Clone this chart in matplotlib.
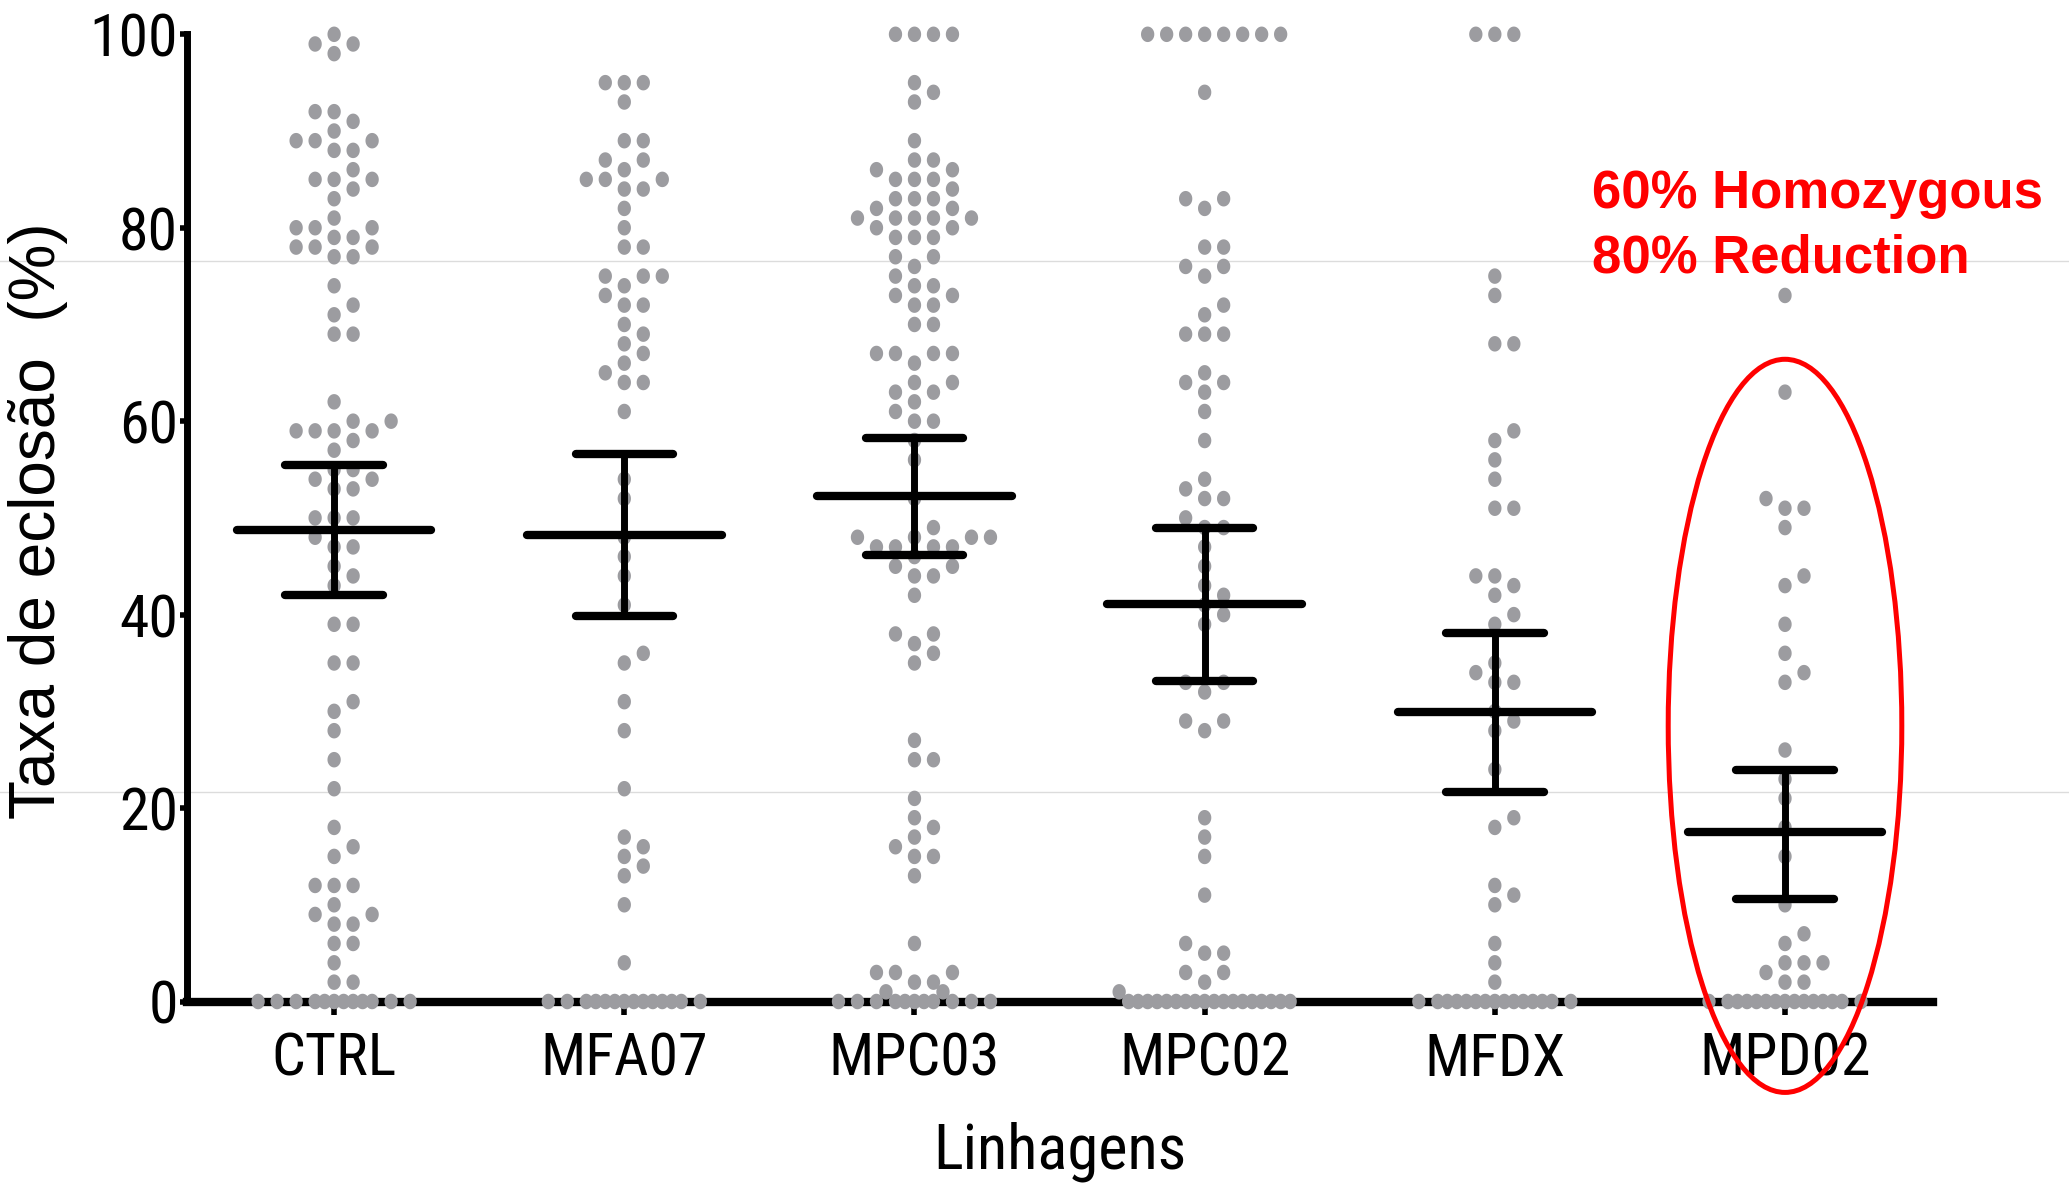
import numpy as np
import matplotlib
matplotlib.use("Agg")
import matplotlib.pyplot as plt
from matplotlib import font_manager as fm
from matplotlib.patches import Ellipse
from matplotlib.lines import Line2D
from matplotlib.path import Path

# Hatch rate (%) per line
categories = ["CTRL", "MFA07", "MPC03", "MPC02", "MFDX", "MPD02"]

ctrl = [100, 99, 99, 98, 92, 92, 91, 90, 89, 89, 89, 88, 88, 86, 85, 85, 85, 84,
        83, 81, 80, 80, 80, 79, 79, 78, 78, 78, 77, 77, 74, 72, 71, 69, 69, 62,
        60, 60, 59, 59, 59, 59, 58, 57, 55, 55, 54, 54, 53, 53, 50, 50, 50, 48,
        47, 47, 45, 44, 43, 39, 39, 35, 35, 31, 30, 28, 25, 22, 18, 16, 15, 12,
        12, 12, 10, 9, 9, 8, 8, 6, 6, 4, 2, 2,
        0, 0, 0, 0, 0, 0, 0, 0, 0, 0, 0, 0]
mfa07 = [95, 95, 95, 93, 89, 89, 87, 87, 86, 85, 85, 85, 84, 84, 82, 80, 78, 78,
         75, 75, 75, 74, 73, 72, 72, 70, 69, 68, 67, 66, 65, 64, 64, 61, 54, 52,
         48, 46, 44, 41, 36, 35, 31, 28, 22, 17, 16, 15, 14, 13, 10, 4,
         0, 0, 0, 0, 0, 0, 0, 0, 0, 0, 0, 0, 0, 0]
mpc03 = [100, 100, 100, 100, 95, 94, 93, 89, 87, 87, 86, 86, 85, 85, 85, 84, 83,
         83, 83, 82, 82, 81, 81, 81, 81, 81, 80, 80, 79, 79, 79, 77, 77, 76, 75,
         74, 74, 73, 73, 72, 72, 70, 70, 67, 67, 67, 67, 66, 64, 64, 63, 63, 62,
         61, 60, 60, 58, 56, 52, 49, 48, 48, 48, 48, 47, 47, 47, 47, 46, 45, 45,
         44, 44, 42, 38, 38, 37, 36, 35, 27, 25, 25, 21, 19, 18, 17, 16, 15, 15,
         13, 6, 3, 3, 3, 2, 2, 1, 1,
         0, 0, 0, 0, 0, 0, 0, 0, 0, 0, 0]
mpc02 = [100, 100, 100, 100, 100, 100, 100, 100, 94, 83, 83, 82, 78, 78, 76, 76,
         75, 72, 71, 69, 69, 69, 65, 64, 64, 63, 61, 58, 54, 53, 52, 52, 50, 49,
         49, 47, 45, 43, 42, 41, 40, 39, 33, 33, 32, 29, 29, 28, 19, 17, 15, 11,
         6, 5, 5, 3, 3, 2, 1,
         0, 0, 0, 0, 0, 0, 0, 0, 0, 0, 0, 0, 0, 0, 0, 0, 0, 0]
mfdx = [100, 100, 100, 75, 73, 68, 68, 59, 58, 56, 54, 51, 51, 44, 44, 43, 42,
        40, 39, 35, 34, 33, 33, 30, 29, 28, 24, 19, 18, 12, 11, 10, 6, 4, 2,
        0, 0, 0, 0, 0, 0, 0, 0, 0, 0, 0, 0, 0, 0, 0]
mpd02 = [73, 63, 52, 51, 51, 49, 44, 43, 39, 36, 34, 33, 26, 23, 21, 18, 15, 10,
         7, 6, 4, 4, 4, 3, 2, 2,
         0, 0, 0, 0, 0, 0, 0, 0, 0, 0, 0, 0, 0, 0, 0]
groups = [ctrl, mfa07, mpc03, mpc02, mfdx, mpd02]

# Mean with error bar limits
means = [48.8, 48.2, 52.3, 41.1, 29.9, 17.5]
err_low = [42.0, 39.9, 46.2, 33.1, 21.7, 10.6]
err_high = [55.5, 56.6, 58.3, 49.0, 38.1, 23.9]

note_lines = ["60% Homozygous", "80% Reduction"]
highlight = "MPD02"


def pick_condensed():
    """Return (family, stretch, size) for a narrow sans face if one exists."""
    fonts = fm.fontManager.ttflist
    names = {f.name for f in fonts}
    for fam in ("Liberation Sans Narrow", "Arial Narrow", "Roboto Condensed"):
        if fam in names:
            return fam, "normal", 43
    for fam in ("Noto Sans", "DejaVu Sans", "Open Sans"):
        for f in fonts:
            if (f.name == fam and f.style == "normal"
                    and f.stretch in ("condensed", "semi-condensed")
                    and f.weight in (400, "normal", "regular")):
                return fam, f.stretch, 42
    return "Liberation Sans", "normal", 38


tick_family, tick_stretch, tick_size = pick_condensed()
tick_font = [tick_family, "Liberation Sans", "DejaVu Sans"]

W, H, DPI = 2069, 1186, 100
fig = plt.figure(figsize=(W / DPI, H / DPI), dpi=DPI)
fig.patch.set_facecolor("white")

ax_left, ax_right, ax_top, ax_bot = 187, 1933, 34.3, 1001.5
ax = fig.add_axes([ax_left / W, 1 - ax_bot / H, (ax_right - ax_left) / W,
                   (ax_bot - ax_top) / H])
ax.patch.set_visible(False)
xlim = (-0.507, 5.51)
ax.set_xlim(*xlim)
ax.set_ylim(0, 100)

# faint horizontal rules across the whole canvas
for yf in (261, 792):
    fig.add_artist(Line2D([0, 1], [1 - yf / H] * 2, transform=fig.transFigure,
                          color="#dcdcdc", lw=1.0, zorder=0))

px_x = (ax_right - ax_left) / (xlim[1] - xlim[0])
px_y = (ax_bot - ax_top) / 100.0


def swarm(values, step_px=19.0, thr_px=12.0, max_half=9):
    """Beeswarm offsets (in data x units) on a grid of half dot steps."""
    vals = np.asarray(values, dtype=float)
    order = np.argsort(vals, kind="stable")
    placed = []
    off = np.zeros(len(vals))
    cand = list(range(-max_half, max_half + 1))
    for i in order:
        y = vals[i] * px_y
        best = None
        for h in cand:
            x = h * step_px / 2
            cost = 0.0
            for (px, py) in placed:
                d = np.hypot(px - x, py - y)
                cost = max(cost, thr_px - d)
            cost = round(max(cost, 0.0), 3)
            key = (cost, h % 2, abs(h), -h)
            if best is None or key < best[0]:
                best = (key, x)
        placed.append((best[1], y))
        off[i] = best[1] / px_x
    return off


# elliptical dot marker (taller than wide)
t = np.linspace(0, 2 * np.pi, 60)
dot = Path(np.column_stack([np.cos(t) * 13.3 / 15.5, np.sin(t)]), closed=True)

xpos = np.arange(len(categories))
for i, vals in enumerate(groups):
    offs = swarm(vals)
    ax.scatter(xpos[i] + offs, vals, marker=dot, s=(15.5 * 72 / DPI) ** 2,
               color="#9c9ca0", edgecolors="none", zorder=3, clip_on=False)

# mean and error bars
ax.hlines(means, xpos - 0.335, xpos + 0.335, colors="black", lw=6, zorder=4,
          capstyle="round")
ax.hlines(err_low, xpos - 0.168, xpos + 0.168, colors="black", lw=6, zorder=4,
          capstyle="round")
ax.hlines(err_high, xpos - 0.168, xpos + 0.168, colors="black", lw=6, zorder=4,
          capstyle="round")
ax.vlines(xpos, err_low, err_high, colors="black", lw=5, zorder=4)

# axes styling
for s in ("top", "right"):
    ax.spines[s].set_visible(False)
ax.spines["left"].set_linewidth(5)
ax.spines["bottom"].set_linewidth(6)
ax.spines["left"].set_zorder(2)
ax.spines["bottom"].set_zorder(2)

ax.set_yticks([0, 20, 40, 60, 80, 100])
ax.set_xticks(xpos)
ax.set_xticklabels(categories)
ax.tick_params(axis="y", length=5, width=4, pad=1.5, labelsize=tick_size)
ax.tick_params(axis="x", length=9, width=4, pad=12, labelsize=tick_size)
for lab in ax.get_xticklabels() + ax.get_yticklabels():
    lab.set_family(tick_font)
    lab.set_stretch(tick_stretch)

fig.text(38 / W, 1 - 521 / H, "Taxa de eclosão  (%)", rotation=90,
         ha="center", va="center", fontsize=46,
         family=["Liberation Sans", "DejaVu Sans"])
fig.text(1060 / W, 1 - 1152 / H, "Linhagens", ha="center", va="center",
         fontsize=tick_size + 2, family=tick_font, stretch=tick_stretch)

# highlighted group
hi = categories.index(highlight)
ax.add_patch(Ellipse((xpos[hi], 28.5), 0.805, 75.8, fill=False,
                     edgecolor="#ff0000", lw=3.6, zorder=5, clip_on=False))
ax.text(4.336, 82.0, note_lines[0], color="#ff0000", fontsize=38,
        fontweight="bold", ha="left", va="baseline",
        family=["Liberation Sans", "DejaVu Sans"], zorder=6)
ax.text(4.336, 75.4, note_lines[1], color="#ff0000", fontsize=38,
        fontweight="bold", ha="left", va="baseline",
        family=["Liberation Sans", "DejaVu Sans"], zorder=6)

fig.savefig("out.png", dpi=DPI, facecolor="white")
